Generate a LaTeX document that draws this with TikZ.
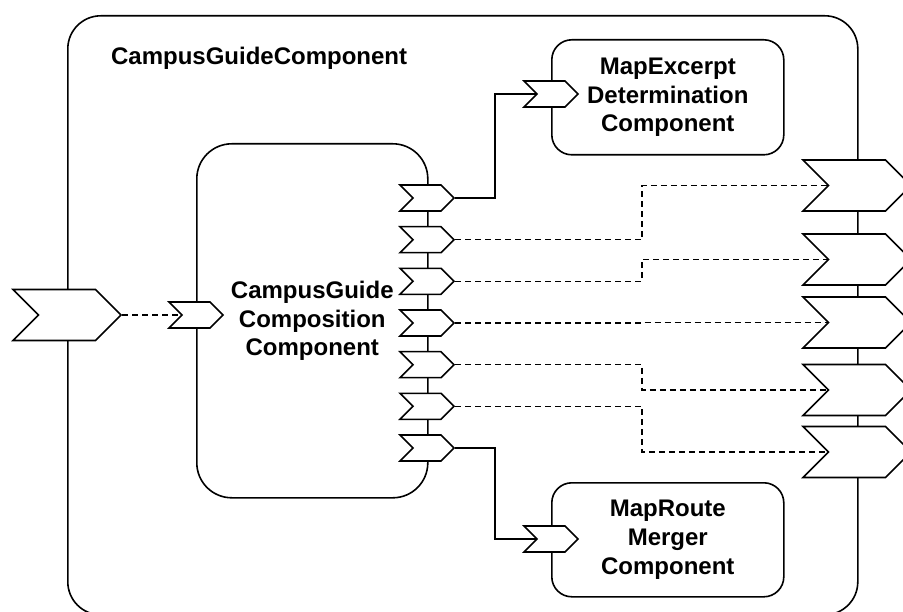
\documentclass[tikz,border=0pt]{standalone}
\usepackage{fontspec}
\setmainfont{Liberation Sans}
\usetikzlibrary{shapes.symbols,backgrounds}
\begin{document}
\begin{tikzpicture}[x=1pt,y=-1pt,line width=1.6pt,
    box/.style={draw,anchor=north west,align=center,font=\fontsize{24}{28.8}\selectfont\bfseries},
    port/.style={draw,fill=white,shape=signal,signal from=west,signal to=east,
      signal pointer angle=90,inner sep=0pt,minimum width=54pt,minimum height=26pt},
    bigport/.style={port,minimum width=108pt,minimum height=51pt},
    link/.style={line width=1.6pt},
    wire/.style={dash pattern=on 6pt off 4pt,line width=1.4pt}]
  \useasboundingbox (0,0) rectangle (903,612);
  \node[box,rounded corners=33pt,minimum width=790pt,minimum height=599pt] (guide) at (67,15) {};
  \node[anchor=base west,font=\fontsize{24}{28.8}\selectfont\bfseries] (title) at (107,65) {CampusGuideComponent};
  \node[box,rounded corners=35pt,minimum width=231pt,minimum height=354pt] (comp) at (196,143)
    {CampusGuide\\Composition\\Component};
  \node[box,rounded corners=20pt,minimum width=232pt,minimum height=115pt] (excerpt) at (551,39)
    {MapExcerpt\\Determination\\Component};
  \node[box,rounded corners=20pt,minimum width=232pt,minimum height=114pt] (merger) at (551,482)
    {MapRoute\\Merger\\Component};
  % ports
  \node[bigport] (in) at (67,315) {};
  \node[port] (compIn) at (196,315) {};
  \foreach[count=\i,evaluate={\y=198+(\i-1)*41.67}] \n in {1,...,7}
    \node[port] (c\i) at (427,\y) {};
  \foreach[count=\i] \y in {185.5,259.5,322.5,390,452}
    \node[bigport] (g\i) at (857,\y) {};
  \node[port] (excerptIn) at (551,94) {};
  \node[port] (mergerIn) at (551,539) {};
  \coordinate (jog) at (495,0);
  \coordinate (bend) at (642,0);
  % connectors
  \begin{scope}[on background layer]
    \draw[wire] (in.east) -- (compIn.west);
    \draw[link] (c1.east) -- (c1.east -| jog) |- (excerptIn.west);
    \draw[link] (c7.east) -- (c7.east -| jog) |- (mergerIn.west);
    \foreach \a/\b in {2/1,3/2,4/3,5/4,6/5}
      \draw[wire] (c\a.east) -- (c\a.east -| bend) |- (g\b.west);
  \end{scope}
\end{tikzpicture}
\end{document}
